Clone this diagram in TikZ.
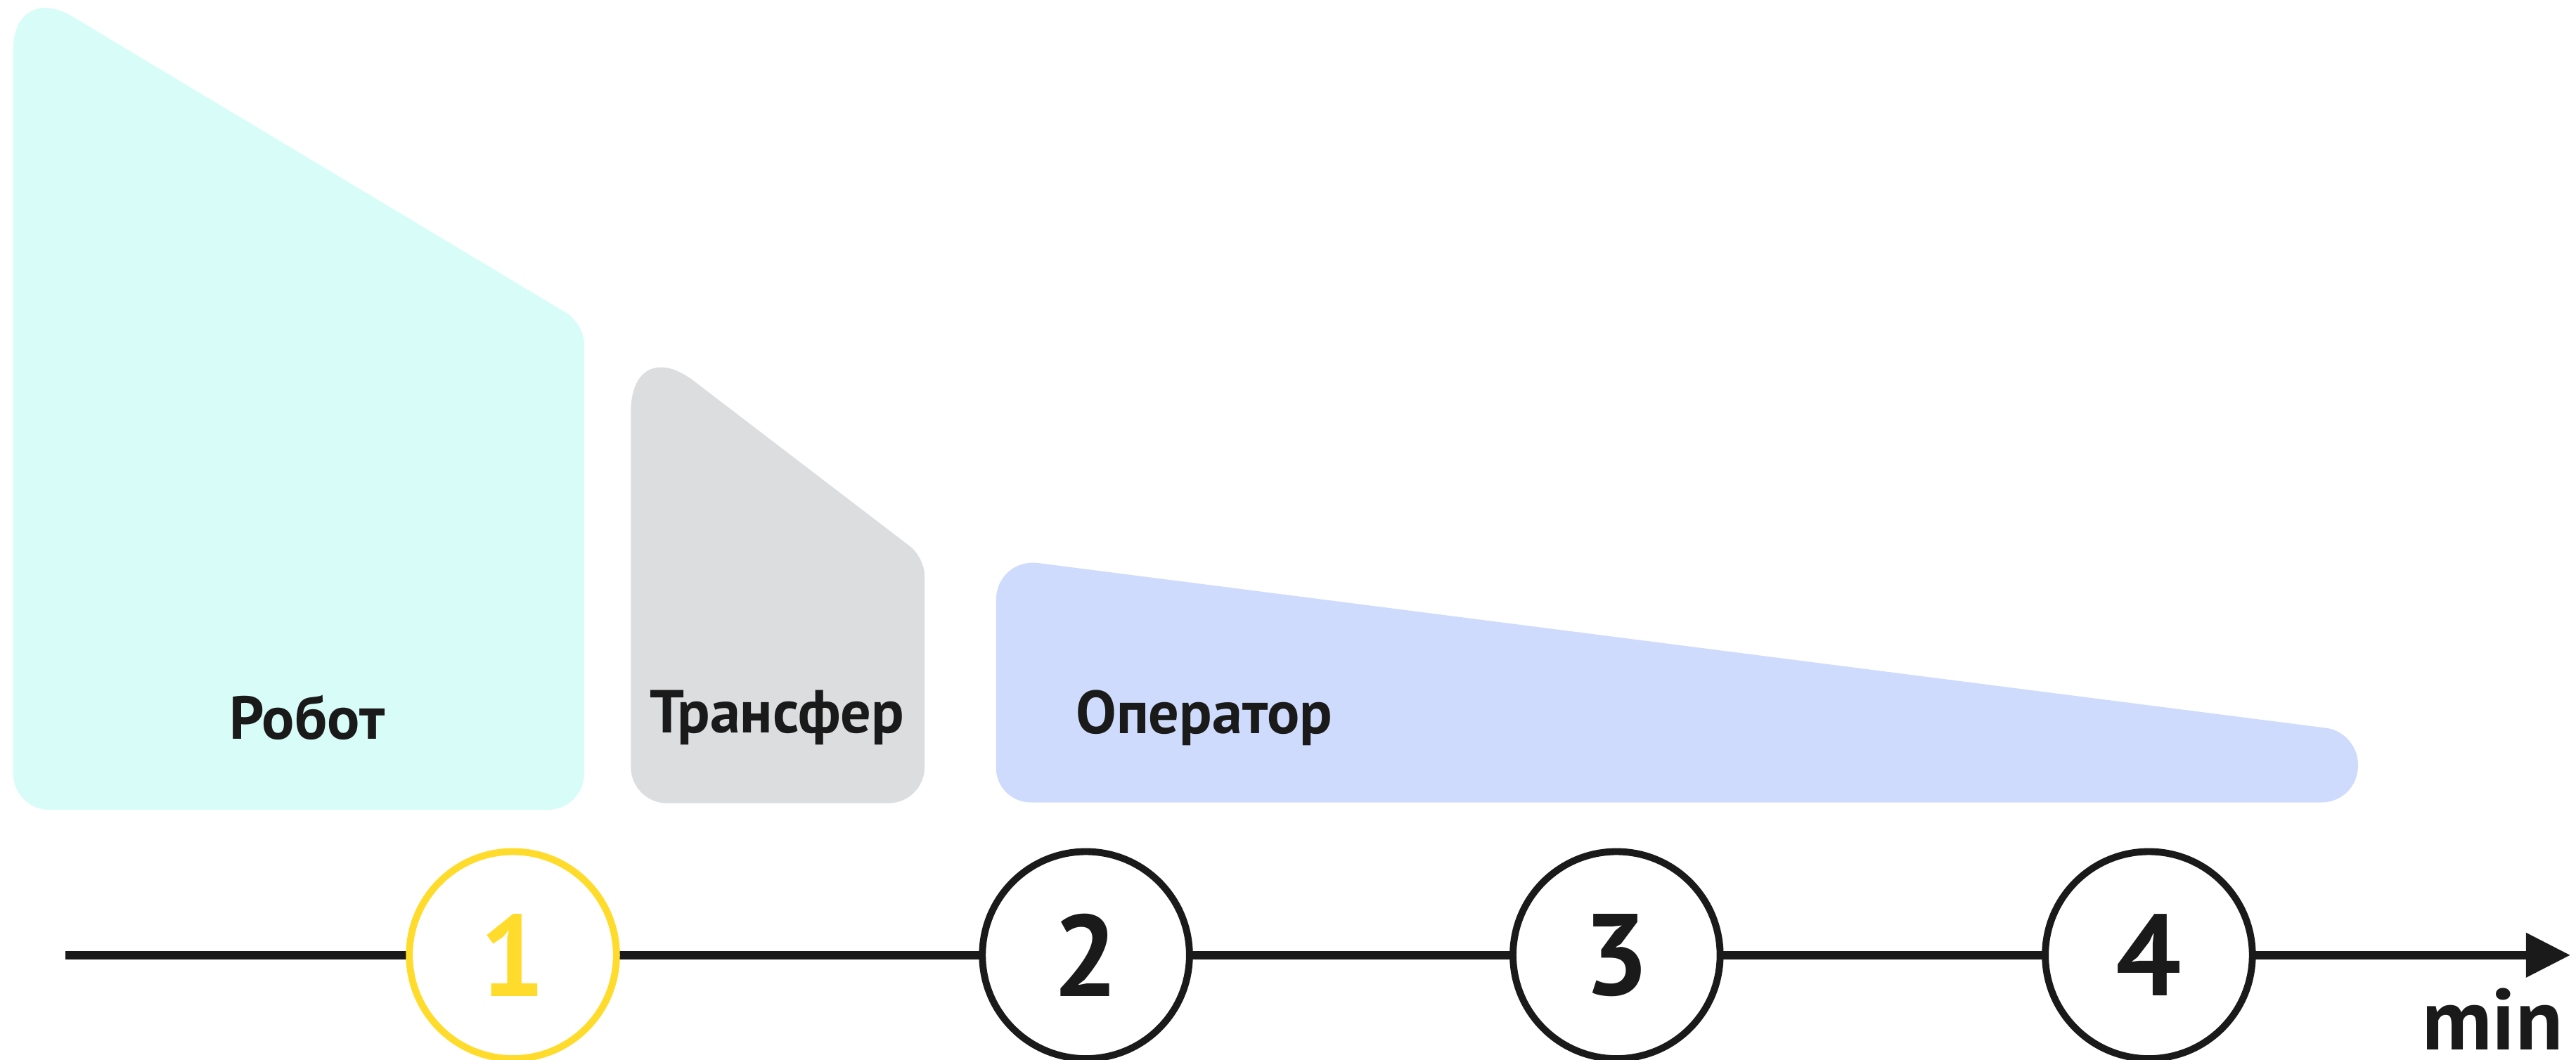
\documentclass[tikz,border=0pt]{standalone}
\usepackage{fontspec}
\setmainfont{PT Sans}
\usetikzlibrary{arrows.meta,positioning}
\definecolor{robotcol}{HTML}{D8FDF9}
\definecolor{transfercol}{HTML}{DCDDDF}
\definecolor{operatorcol}{HTML}{CFDBFD}
\definecolor{yellowcol}{HTML}{FFDB2B}
\definecolor{inkcol}{HTML}{1A1A1A}
\begin{document}
\begin{tikzpicture}[
    x=0.01cm, y=-0.01cm,
    lbl/.style={font=\fontsize{10.5}{12}\selectfont\bfseries, text=inkcol},
    stage/.style={circle,draw=inkcol,fill=white,line width=1.2pt,
        minimum size=1.26cm,inner sep=0pt,
        font=\fontsize{20}{24}\selectfont\bfseries,text=inkcol},
    >={Triangle[length=0.27cm,width=0.26cm]},
    ]
    \useasboundingbox (0,0) rectangle (1568,645);

    %shapes
    \fill[robotcol] (180,493) [rounded corners=0.22cm] -- (8,493)
        [rounded corners=0.42cm] -- (8,-11.6)
        [rounded corners=0.125cm] -- (355.6,197)
        [rounded corners=0.22cm] -- (355.6,493) -- cycle;
    \fill[transfercol] (470,489) [rounded corners=0.22cm] -- (384,489)
        [rounded corners=0.48cm] -- (384,202.6)
        [rounded corners=0.11cm] -- (562.8,339.4)
        [rounded corners=0.22cm] -- (562.8,489) -- cycle;
    \fill[operatorcol] (1000,488.5) [rounded corners=0.21cm] -- (606.3,488.5)
        [rounded corners=0.26cm] -- (606.3,339.5)
        [rounded corners=0.194cm] -- (1435.3,445.7)
        [rounded corners=0.22cm] -- (1435.3,488.5) -- cycle;

    %labels
    \node[lbl] (robot) at (187,437) {Робот};
    \node[lbl] (transfer) at (473,437) {Трансфер};
    \node[lbl] (operator) at (733,437) {Оператор};

    %time axis
    \coordinate (start) at (40,581.5);
    \coordinate (end) at (1564.6,581.5);
    \draw[->, line width=1.4pt, inkcol] (start) -- (end);

    %stages
    \node[stage, draw=yellowcol, text=yellowcol] (s1) at (312.2,581.5) {1};
    \node[stage] (s2) at (661,581.5) {2};
    \node[stage] (s3) at (984,581.5) {3};
    \node[stage] (s4) at (1308,581.5) {4};

    %unit
    \node[font=\fontsize{15}{17}\selectfont\bfseries, text=inkcol,
        anchor=base east, inner sep=0pt] (unit) at (1560.7,639) {min};

\end{tikzpicture}
\end{document}
